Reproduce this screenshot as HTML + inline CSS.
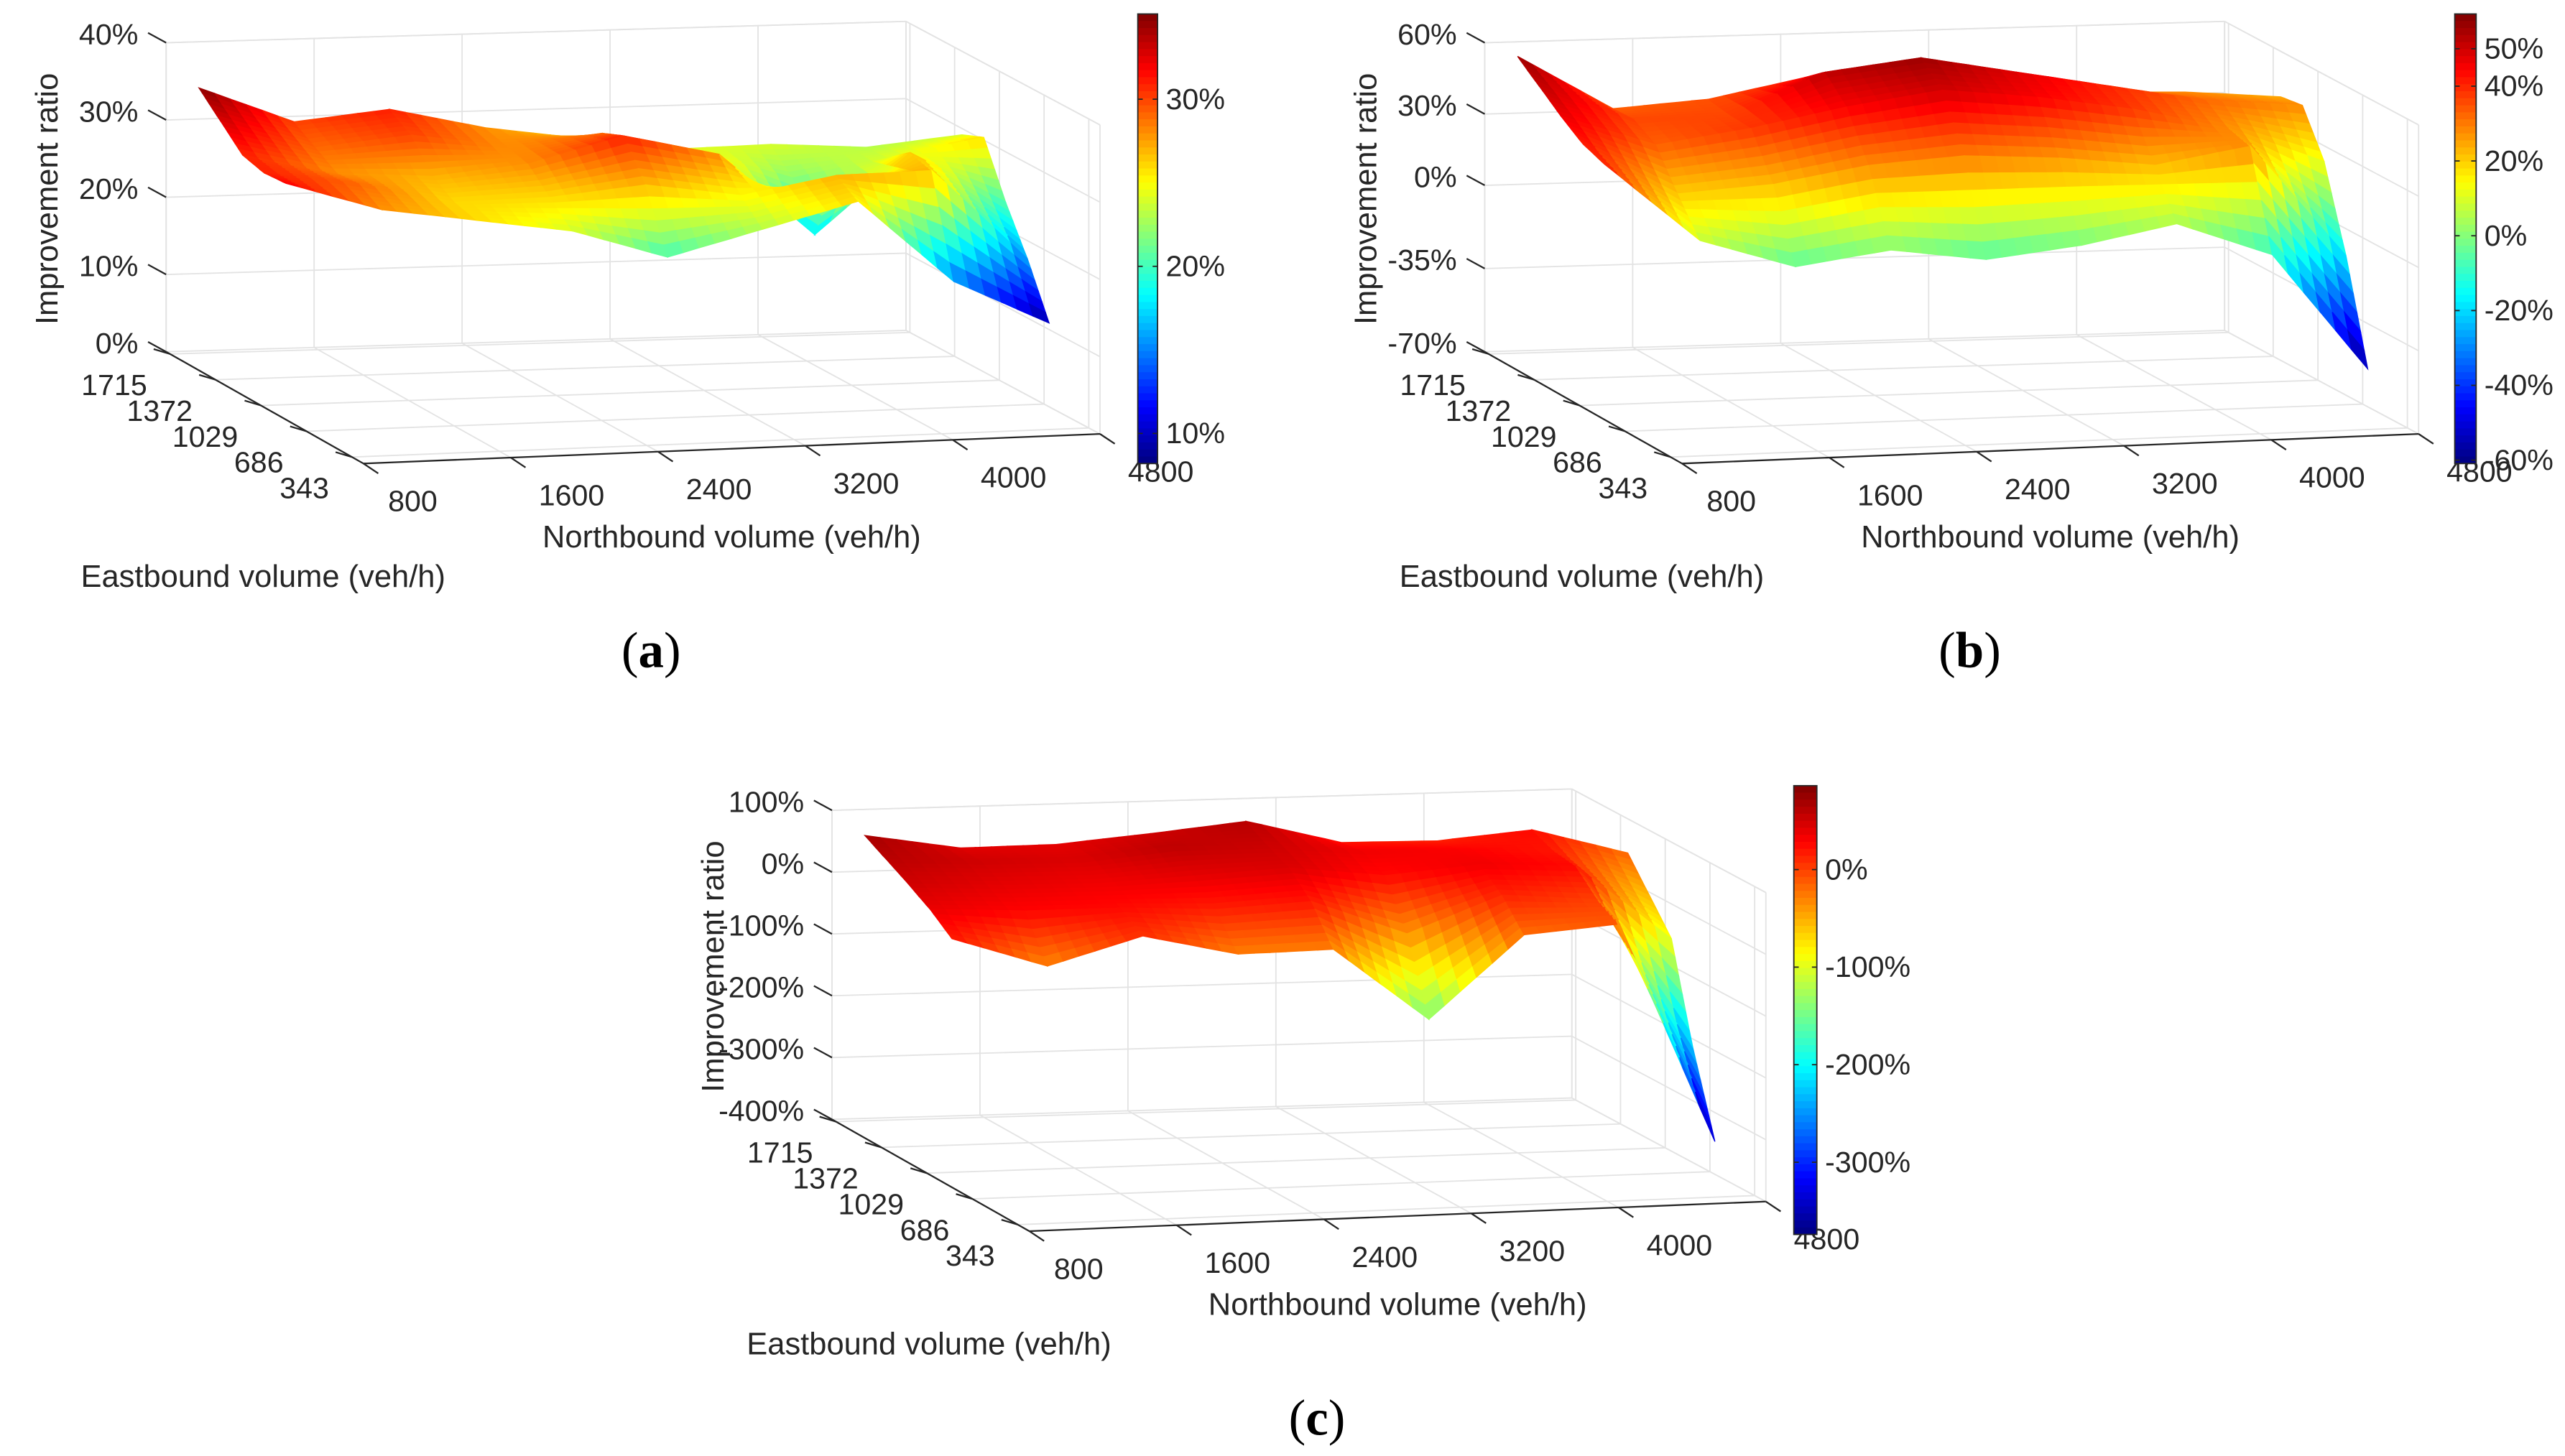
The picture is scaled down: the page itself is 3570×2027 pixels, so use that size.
<!DOCTYPE html>
<html><head><meta charset="utf-8"><style>
html,body{margin:0;padding:0;background:#fff}
svg{display:block}
text{font-family:"Liberation Sans",Arial,sans-serif;fill:#262626}
</style></head><body>
<svg id="fig" xmlns="http://www.w3.org/2000/svg" width="3570" height="2027" viewBox="0 0 1560 885.8"></svg>
<script>
// ---- data ----
const northbound = [800,1250,1700,2150,2600,3050,3500,3950,4400];
const eastbound = [343,686,1029,1372,1715];
const nbTicks = [800,1600,2400,3200,4000,4800];
const ebTicks = [343,686,1029,1372,1715];
// rows: eastbound (front->back), cols: northbound
const zA = [
 [32,28,26,24,20,23,26,15,9],
 [31,29,26,26,27,25,27,27,15],
 [31,28,27,28,31,28,17,27,20],
 [33,29,30,28,29,26,22,24,26],
 [35,30,31,28,26,24,24,23,24]];
const zB = [
 [42,8,-5,0,-6,-2,5,-10,-60],
 [43,20,22,28,30,27,22,28,-20],
 [47,33,38,45,50,45,38,28,12],
 [52,36,36,52,56,48,40,32,28],
 [57,33,35,42,38,34,30,28,24]];
const zC = [
 [20,-32,9,-28,-28,-149,-20,-10,-370],
 [38,28,25,15,20,-40,15,0,-250],
 [50,40,35,40,45,25,35,25,-100],
 [60,50,45,58,52,35,30,20,-60],
 [70,42,40,50,62,20,15,25,-20]];
const zTicksA = [0,10,20,30,40];
const zLabelsA = ["0%","10%","20%","30%","40%"];
const zTicksB = [-70,-35,0,30,60];
const zLabelsB = ["-70%","-35%","0%","30%","60%"];
const zTicksC = [-400,-300,-200,-100,0,100];
const zLabelsC = ["-400%","-300%","-200%","-100%","0%","100%"];
const cbTicksA = [10,20,30];
const cbTicksB = [-60,-40,-20,0,20,40,50];
const cbTicksC = [-300,-200,-100,0];

const NS="http://www.w3.org/2000/svg";
const svg=document.getElementById('fig');
function mk(tag,attrs,parent){const el=document.createElementNS(NS,tag);for(const k in attrs)el.setAttribute(k,attrs[k]);(parent||svg).appendChild(el);return el;}
function jet(t){t=Math.max(0,Math.min(1,t));const c=x=>Math.round(255*Math.max(0,Math.min(1,1.5-Math.abs(4*t-x))));return `rgb(${c(3)},${c(2)},${c(1)})`;}

const FL=[221,282],FR=[669,264],BL=[101,214],BR=[551,201],H=188;
function floorPt(u,v){return [FL[0]*(1-u)*(1-v)+FR[0]*u*(1-v)+BL[0]*(1-u)*v+BR[0]*u*v, FL[1]*(1-u)*(1-v)+FR[1]*u*(1-v)+BL[1]*(1-u)*v+BR[1]*u*v];}
function uOf(n){return (n-800)/4000;}
function vOf(e){return (e-257)/1488;}

function line(g,a,b,col,w){return mk('line',{x1:a[0],y1:a[1],x2:b[0],y2:b[1],stroke:col,'stroke-width':w},g);}

function drawChart(cfg){
  const g=mk('g',{transform:`translate(${cfg.off[0]},${cfg.off[1]})`});
  
  
  const zmin=cfg.zmin,zmax=cfg.zmax;
  const hz=z=>(z-zmin)/(zmax-zmin)*H;
  const grid=mk('g',{},g);
  
  
  const gc='#e3e3e3';
  cfg.zTicks.forEach(z=>{const h=hz(z);const a=floorPt(0,1),b=floorPt(1,1),c=floorPt(1,0);
    line(grid,[a[0],a[1]-h],[b[0],b[1]-h],gc,0.8);line(grid,[b[0],b[1]-h],[c[0],c[1]-h],gc,0.8);});
  nbTicks.forEach(n=>{const u=uOf(n);const a=floorPt(u,0),b=floorPt(u,1);line(grid,a,b,gc,0.8);line(grid,b,[b[0],b[1]-H],gc,0.8);});
  ebTicks.forEach(e=>{const v=vOf(e);const a=floorPt(0,v),b=floorPt(1,v);line(grid,a,b,gc,0.8);line(grid,b,[b[0],b[1]-H],gc,0.8);});
  [floorPt(0,1),floorPt(1,1),floorPt(1,0)].forEach(p=>line(grid,p,[p[0],p[1]-H],gc,0.8));
  line(grid,[BL[0],BL[1]-H],[BR[0],BR[1]-H],gc,0.8);line(grid,[BR[0],BR[1]-H],[FR[0],FR[1]-H],gc,0.8);
  const ax=mk('g',{},g);
  
  
  line(ax,FL,FR,'#262626',1);line(ax,FL,BL,'#262626',1);
  nbTicks.forEach(n=>{const p=floorPt(uOf(n),0);line(ax,p,[p[0]+9,p[1]+6],'#262626',1);
    const t=mk('text',{x:p[0]+(n===800?30:37),y:p[1]+29,'font-size':18,'text-anchor':'middle'},g);t.textContent=n;
    
    });
  ebTicks.forEach(e=>{const p=floorPt(0,vOf(e));line(ax,p,[p[0]-10,p[1]-3],'#262626',1);
    const t=mk('text',{x:p[0]-14,y:p[1]+25,'font-size':18,'text-anchor':'end'},g);t.textContent=e;
    
    });
  cfg.zTicks.forEach((z,i)=>{const p=floorPt(0,1);const y=p[1]-hz(z);line(ax,[p[0],y],[p[0]-11,y-6],'#262626',1);
    const t=mk('text',{x:84,y:y+1,'font-size':18,'text-anchor':'end'},g);t.textContent=cfg.zLabels[i];
    
    });
  const surf=mk('g',{},g);
  
  
  const zs=H/(zmax-zmin);
  const proj=(n,e,z)=>{const k=(n-800)/450,b=(e-343)/343;return [174+58*k-13.25*b,262-2.9*k-11*b-(z-zmin)*zs];};
  const Z=cfg.z,S=6,polys=[];
  for(let r=0;r<eastbound.length-1;r++)for(let c=0;c<northbound.length-1;c++){
    for(let i=0;i<S;i++)for(let j=0;j<S;j++){
      const pts=[[i,j],[i,j+1],[i+1,j+1],[i+1,j]].map(([a,b])=>{const fr=a/S,fc=b/S;
        const z=Z[r][c]*(1-fr)*(1-fc)+Z[r][c+1]*(1-fr)*fc+Z[r+1][c]*fr*(1-fc)+Z[r+1][c+1]*fr*fc;
        const n=northbound[c]+(northbound[c+1]-northbound[c])*fc,e=eastbound[r]+(eastbound[r+1]-eastbound[r])*fr;
        return {p:proj(n,e,z),z};});
      const za=pts.reduce((s,q)=>s+q.z,0)/4;
      polys.push({depth:r+(i+0.5)/S,pts,za});
    }
  }
  polys.sort((a,b)=>b.depth-a.depth);
  polys.forEach(q=>{const col=jet((q.za-cfg.clim[0])/(cfg.clim[1]-cfg.clim[0]));
    const el=mk('polygon',{points:q.pts.map(o=>o.p[0].toFixed(1)+','+o.p[1].toFixed(1)).join(' '),fill:col,stroke:col,'stroke-width':0.6},surf);
    
    });
  let t=mk('text',{x:445,y:333,'font-size':19,'text-anchor':'middle'},g);t.textContent='Northbound volume (veh/h)';
  
  
  t=mk('text',{x:160,y:357,'font-size':19,'text-anchor':'middle'},g);t.textContent='Eastbound volume (veh/h)';
  
  
  t=mk('text',{x:0,y:0,'font-size':19,'text-anchor':'middle',transform:'translate(35,121) rotate(-90)'},g);t.textContent='Improvement ratio';
  
  
  t=mk('text',{x:396,y:406,'font-size':31,'text-anchor':'middle',style:'font-family:"Liberation Serif",serif;fill:#000'},g);
  t.innerHTML='(<tspan font-weight="bold">'+cfg.letter+'</tspan>)';
  
  
  const cb=mk('g',{});
  
  
  const [cx,cy0,cw,cy1]=cfg.cbar,N=64,hh=(cy1-cy0)/N;
  for(let i=0;i<N;i++){mk('rect',{x:cx,y:cy0+i*hh,width:cw,height:hh+0.3,fill:jet(1-(i+0.5)/N)},cb);}
  mk('rect',{x:cx,y:cy0,width:cw,height:cy1-cy0,fill:'none',stroke:'#262626','stroke-width':0.8},cb);
  cfg.cbTicks.forEach(v=>{const y=cy1-(v-cfg.clim[0])/(cfg.clim[1]-cfg.clim[0])*(cy1-cy0);
    line(cb,[cx,y],[cx+3,y],'#262626',0.8);line(cb,[cx+cw-3,y],[cx+cw,y],'#262626',0.8);
    const tt=mk('text',{x:cx+cw+5,y:y+6,'font-size':18},cb);tt.textContent=v+'%';
    
    });
}
drawChart({name:'chart-a',letter:'a',off:[0,0],z:zA,zmin:0,zmax:40,zTicks:zTicksA,zLabels:zLabelsA,clim:[8.2,35.1],cbar:[692,8.5,12,282],cbTicks:cbTicksA});
drawChart({name:'chart-b',letter:'b',off:[802,0],z:zB,zmin:-70,zmax:60,zTicks:zTicksB,zLabels:zLabelsB,clim:[-60.9,59.3],cbar:[1493,8.5,13,282],cbTicks:cbTicksB});
drawChart({name:'chart-c',letter:'c',off:[405,467],z:zC,zmin:-400,zmax:100,zTicks:zTicksC,zLabels:zLabelsC,clim:[-374,86],cbar:[1091,478,14,751],cbTicks:cbTicksC});
</script>
</body></html>
